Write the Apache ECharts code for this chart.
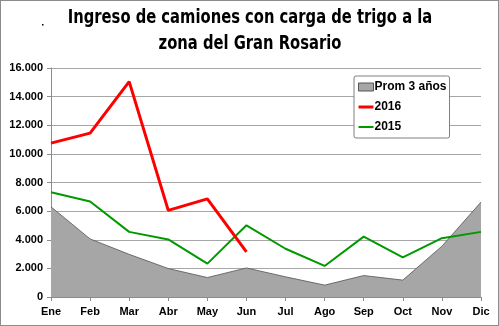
<!DOCTYPE html>
<html>
<head>
<meta charset="utf-8">
<script src="https://cdn.jsdelivr.net/npm/echarts@6/dist/echarts.min.js"></script>
<style>
  html, body { margin: 0; padding: 0; background: #fff; }
  #chart { width: 499px; height: 326px; box-sizing: border-box; border: 1px solid #8c8c8c; }
</style>
</head>
<body>
<div id="chart"></div>
<script>
// Months of the year
const months = ['Ene', 'Feb', 'Mar', 'Abr', 'May', 'Jun', 'Jul', 'Ago', 'Sep', 'Oct', 'Nov', 'Dic'];
// Three-year average of trucks entering
const prom3 = [6300, 4060, 2980, 1990, 1360, 2030, 1410, 830, 1500, 1180, 3550, 6630];
// 2016 season (through June)
const y2016 = [10750, 11450, 15050, 6050, 6860, 3160];
// 2015 season
const y2015 = [7320, 6670, 4550, 4020, 2330, 5010, 3370, 2170, 4220, 2770, 4110, 4550];

const titleLines = ['Ingreso de camiones con carga de trigo a la', 'zona del Gran Rosario'];

const chart = echarts.init(document.getElementById('chart'), null, { renderer: 'canvas' });
const labelFont = { fontFamily: 'Liberation Sans', fontWeight: 'bold', fontSize: 11, color: '#000' };
const titleFont = 'bold 20px "DejaVu Sans Condensed"';

chart.setOption({
  animation: false,
  backgroundColor: '#fff',
  graphic: [
    {
      type: 'text', x: 249, y: 17, scaleX: 0.82, silent: true,
      style: { text: titleLines[0], font: titleFont, fill: '#000', align: 'center', verticalAlign: 'middle' }
    },
    {
      type: 'text', x: 249, y: 43, scaleX: 0.82, silent: true,
      style: { text: titleLines[1], font: titleFont, fill: '#000', align: 'center', verticalAlign: 'middle' }
    },
    {
      type: 'rect', silent: true,
      shape: { x: 41, y: 23, width: 1.5, height: 1.5 },
      style: { fill: '#000' }
    }
  ],
  legend: {
    orient: 'vertical',
    left: 353,
    top: 75,
    padding: [5, 3, 5, 4],
    itemGap: 8,
    itemWidth: 15,
    itemHeight: 8,
    symbolKeepAspect: true,
    backgroundColor: '#fff',
    borderColor: '#808080',
    borderWidth: 1,
    borderRadius: 2,
    textStyle: { fontFamily: 'Liberation Sans', fontWeight: 'bold', fontSize: 12, color: '#000', padding: [0, 0, 0, -4] },
    data: [
      { name: 'Prom 3 años', icon: 'rect', itemStyle: { color: '#a6a6a6', borderColor: '#555', borderWidth: 1 } },
      { name: '2016', icon: 'path://M0,0L15,0L15,3L0,3Z' },
      { name: '2015', icon: 'path://M0,0L15,0L15,2L0,2Z' }
    ]
  },
  grid: { left: 50, right: 17, top: 67, bottom: 28 },
  xAxis: {
    type: 'category',
    data: months,
    boundaryGap: false,
    axisLine: { lineStyle: { color: '#8c8c8c', width: 1 } },
    axisTick: { show: true, length: 4, lineStyle: { color: '#8c8c8c' } },
    axisLabel: Object.assign({ margin: 9 }, labelFont)
  },
  yAxis: {
    type: 'value',
    min: 0,
    max: 16000,
    interval: 2000,
    axisLine: { show: true, lineStyle: { color: '#8c8c8c', width: 1 } },
    axisTick: { show: true, length: 4, lineStyle: { color: '#8c8c8c' } },
    splitLine: { lineStyle: { color: '#a6a6a6', width: 1 } },
    axisLabel: Object.assign({
      margin: 8,
      formatter: v => v.toLocaleString('de-DE')
    }, labelFont)
  },
  series: [
    {
      name: 'Prom 3 años',
      type: 'line',
      data: prom3,
      symbol: 'none',
      lineStyle: { color: '#555', width: 0.8 },
      itemStyle: { color: '#a6a6a6' },
      areaStyle: { color: '#a6a6a6', opacity: 1 },
      z: 1
    },
    {
      name: '2016',
      type: 'line',
      data: y2016,
      symbol: 'none',
      lineStyle: { color: '#ff0000', width: 3 },
      itemStyle: { color: '#ff0000' },
      z: 3
    },
    {
      name: '2015',
      type: 'line',
      data: y2015,
      symbol: 'none',
      lineStyle: { color: '#009900', width: 2 },
      itemStyle: { color: '#009900' },
      z: 2
    }
  ]
});
</script>
</body>
</html>
